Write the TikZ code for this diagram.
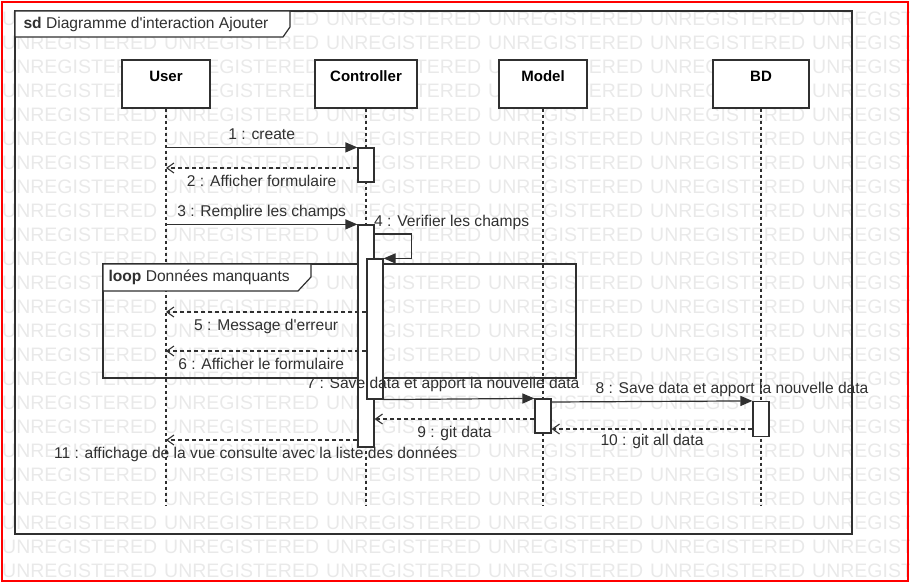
\documentclass[tikz,border=0pt]{standalone}
\usepackage{fontspec}
\setmainfont{Liberation Sans}
\usetikzlibrary{arrows.meta}
\definecolor{umlgray}{HTML}{303030}
\definecolor{wmgray}{HTML}{E9E9E9}

\tikzset{
  wmark/.style={text=wmgray, font=\fontsize{19.5}{22}\selectfont, anchor=west, inner sep=0pt},
  frame/.style={draw=umlgray, line width=1.2pt},
  lifehead/.style={draw=umlgray, fill=white, line width=1.2pt, minimum height=48pt, text height=11pt, text depth=16pt, font=\fontsize{15}{18}\selectfont\bfseries},
  lifeline/.style={umlgray, line width=1.3pt, dash pattern=on 3pt off 3pt},
  activ/.style={draw=umlgray, fill=white, line width=1.2pt, minimum width=16pt, inner sep=0pt},
  call/.style={umlgray, line width=1.2pt, -{Triangle[length=12pt,width=10pt]}},
  reply/.style={umlgray, line width=1.1pt, dash pattern=on 4pt off 3pt, -{Straight Barb[length=7pt,width=10pt]}},
  msglabel/.style={text=umlgray, font=\fontsize{15.6}{18}\selectfont, inner xsep=0pt, inner ysep=7pt, text height=11pt, text depth=0pt}
}

\begin{document}
\begin{tikzpicture}[x=1pt,y=-1pt]

    \useasboundingbox (0,0) rectangle (910,583);

    \begin{scope}
        \clip (0,0) rectangle (910,583);
        \foreach \r in {0,...,23}
            \foreach \c in {0,...,5}
                \node[wmark] (wm-\r-\c) at (2+162*\c, 19+24*\r) {UNREGISTERED};
    \end{scope}

    % frame sd
    \draw[frame] (15,11) rectangle (852,534);
    \draw[frame, fill=white] (15,11) -- (290,11) -- (290,27) -- (283,37) -- (15,37) -- cycle;
    \node[anchor=west, text=umlgray, font=\fontsize{15.6}{18}\selectfont] (sdtitle) at (20,24) {\textbf{sd} Diagramme d\textquotesingle interaction Ajouter};

    \node[lifehead, minimum width=88pt] (user) at (166,84) {User};
    \node[lifehead, minimum width=102pt] (ctrl) at (366,84) {Controller};
    \node[lifehead, minimum width=88pt] (model) at (543,84) {Model};
    \node[lifehead, minimum width=96pt] (bd) at (761,84) {BD};

    \coordinate (bottom) at (0,505);
    \foreach \n in {user,ctrl,model,bd}
        \draw[lifeline] (\n.south) -- (\n.south |- bottom);

    % loop
    \draw[frame] (103,264) rectangle (576,378);
    \draw[frame, fill=white] (103,264) -- (311,264) -- (311,277) -- (298,291) -- (103,291) -- cycle;
    \node[anchor=west, text=umlgray, font=\fontsize{15.6}{18}\selectfont] (looptitle) at (105,277) {\textbf{loop} Données manquants};

    \node[activ, minimum height=34pt] (a1) at (366,165) {};
    \node[activ, minimum height=222pt] (a2) at (366,336) {};
    \node[activ, minimum height=140pt] (a3) at (375,329) {};
    \node[activ, minimum height=34pt] (a4) at (543,416) {};
    \node[activ, minimum height=35pt] (a5) at (761,419) {};

    \coordinate (m2) at (0,168);
    \coordinate (m4) at (0,234);
    \coordinate (m5) at (0,312);
    \coordinate (m6) at (0,351);
    \coordinate (m8) at (0,402);
    \coordinate (m9) at (0,419);
    \coordinate (m10) at (0,429);
    \coordinate (m11) at (0,440);

    \draw[call] (user |- a1.north) -- (a1.north west) node[msglabel, above, midway] {1 : create};
    \draw[reply] (a1.west |- m2) -- (user |- m2) node[msglabel, below, midway] {2 : Afficher formulaire};
    \draw[call] (user |- a2.north) -- (a2.north west) node[msglabel, above, midway] {3 : Remplire les champs};
    \draw[call] (a2.east |- m4) node[msglabel, anchor=south west, xshift=-1pt] {4 : Verifier les champs} -- ++(37,0) |- (a3.north east);
    \draw[reply] (a3.west |- m5) -- (user |- m5) node[msglabel, below, midway] {5 : Message d\textquotesingle erreur};
    \draw[reply] (a3.west |- m6) -- (user |- m6) node[msglabel, below, midway, xshift=-5pt] {6 : Afficher le formulaire};
    \draw[call] (a3.south east) -- (a4.north west) node[msglabel, above, midway, xshift=-16pt, yshift=3pt] {7 : Save data et apport la nouvelle data};
    \draw[call] (a4.east |- m8) -- (a5.north west) node[msglabel, above, midway, xshift=80pt] {8 : Save data et apport la nouvelle data};
    \draw[reply] (a4.west |- m9) -- (a2.east |- m9) node[msglabel, below, midway] {9 : git data};
    \draw[reply] (a5.west |- m10) -- (a4.east |- m10) node[msglabel, below, midway, yshift=2pt] {10 : git all data};
    \draw[reply] (a2.west |- m11) -- (user |- m11) node[msglabel, below, midway, xshift=-6pt] {11 : affichage de la vue consulte avec la liste des données};

    \draw[red, line width=2.5pt] (2,2) rectangle (908,581);

\end{tikzpicture}
\end{document}
